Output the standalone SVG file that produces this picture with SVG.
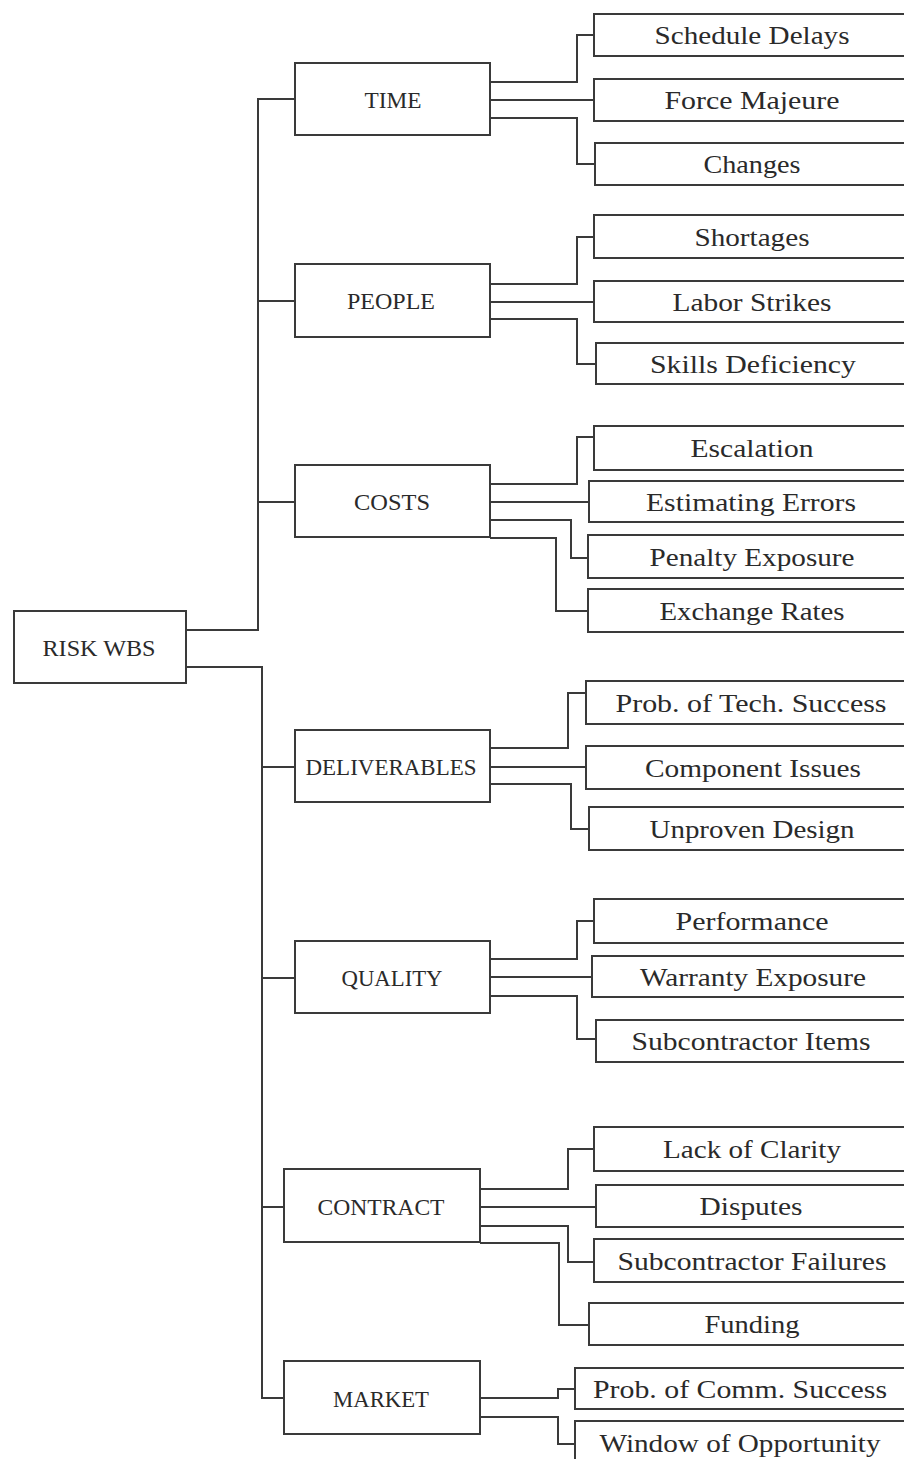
<svg xmlns="http://www.w3.org/2000/svg" width="904" height="1459" viewBox="0 0 904 1459">
<style>
.bg{fill:#fff}
.box{fill:#fff;stroke:#3a3a3a;stroke-width:2}
.ln{fill:none;stroke:#3a3a3a;stroke-width:2}
.t{font-family:"Liberation Serif","DejaVu Serif",serif;font-size:25px;fill:#2a2a2a;text-anchor:middle}
.c{font-family:"Liberation Serif","DejaVu Serif",serif;font-size:23px;fill:#2a2a2a;text-anchor:middle}
</style>
<rect class="bg" x="0" y="0" width="904" height="1459"/>
<g id="connectors">
<polyline class="ln" points="186,630 258,630 258,99 295,99"/>
<line class="ln" x1="258" y1="301" x2="295" y2="301"/>
<line class="ln" x1="258" y1="502" x2="295" y2="502"/>
<polyline class="ln" points="186,667 262,667 262,1398 284,1398"/>
<line class="ln" x1="262" y1="767" x2="295" y2="767"/>
<line class="ln" x1="262" y1="978" x2="295" y2="978"/>
<line class="ln" x1="262" y1="1207" x2="284" y2="1207"/>
<polyline class="ln" points="490,82 577,82 577,35 594,35"/>
<line class="ln" x1="490" y1="100" x2="594" y2="100"/>
<polyline class="ln" points="490,118 577,118 577,164 595,164"/>
<polyline class="ln" points="490,284 577,284 577,237 594,237"/>
<line class="ln" x1="490" y1="302" x2="594" y2="302"/>
<polyline class="ln" points="490,319 577,319 577,364 596,364"/>
<polyline class="ln" points="490,484 577,484 577,437 594,437"/>
<line class="ln" x1="490" y1="502" x2="589" y2="502"/>
<polyline class="ln" points="490,520 571,520 571,558 588,558"/>
<polyline class="ln" points="490,538 556,538 556,611 588,611"/>
<polyline class="ln" points="490,748 568,748 568,693 586,693"/>
<line class="ln" x1="490" y1="767" x2="586" y2="767"/>
<polyline class="ln" points="490,784 571,784 571,829 589,829"/>
<polyline class="ln" points="490,959 577,959 577,921 594,921"/>
<line class="ln" x1="490" y1="977" x2="592" y2="977"/>
<polyline class="ln" points="490,996 577,996 577,1039 596,1039"/>
<polyline class="ln" points="480,1189 568,1189 568,1149 594,1149"/>
<line class="ln" x1="480" y1="1207" x2="596" y2="1207"/>
<polyline class="ln" points="480,1226 568,1226 568,1262 594,1262"/>
<polyline class="ln" points="480,1243 559,1243 559,1325 589,1325"/>
<polyline class="ln" points="480,1398 558,1398 558,1389 575,1389"/>
<polyline class="ln" points="480,1417 558,1417 558,1444 575,1444"/>
</g>
<g id="root"><rect class="box" x="14" y="611" width="172" height="72"/><text class="c" x="99" y="656" textLength="113" lengthAdjust="spacingAndGlyphs">RISK WBS</text></g>
<g id="time"><rect class="box" x="295" y="63" width="195" height="72"/><text class="c" x="393" y="108" textLength="57" lengthAdjust="spacingAndGlyphs">TIME</text></g>
<g id="people"><rect class="box" x="295" y="264" width="195" height="73"/><text class="c" x="391" y="309" textLength="88" lengthAdjust="spacingAndGlyphs">PEOPLE</text></g>
<g id="costs"><rect class="box" x="295" y="465" width="195" height="72"/><text class="c" x="392" y="510" textLength="76" lengthAdjust="spacingAndGlyphs">COSTS</text></g>
<g id="deliverables"><rect class="box" x="295" y="730" width="195" height="72"/><text class="c" x="391" y="775" textLength="171" lengthAdjust="spacingAndGlyphs">DELIVERABLES</text></g>
<g id="quality"><rect class="box" x="295" y="941" width="195" height="72"/><text class="c" x="392" y="986" textLength="101" lengthAdjust="spacingAndGlyphs">QUALITY</text></g>
<g id="contract"><rect class="box" x="284" y="1169" width="196" height="73"/><text class="c" x="381" y="1215" textLength="127" lengthAdjust="spacingAndGlyphs">CONTRACT</text></g>
<g id="market"><rect class="box" x="284" y="1361" width="196" height="73"/><text class="c" x="381" y="1407" textLength="96" lengthAdjust="spacingAndGlyphs">MARKET</text></g>
<g id="schedule-delays"><rect class="box" x="594" y="14" width="320" height="42"/><text class="t" x="752" y="44" textLength="195" lengthAdjust="spacingAndGlyphs">Schedule Delays</text></g>
<g id="force-majeure"><rect class="box" x="594" y="79" width="320" height="42"/><text class="t" x="752" y="109" textLength="175" lengthAdjust="spacingAndGlyphs">Force Majeure</text></g>
<g id="changes"><rect class="box" x="595" y="143" width="320" height="42"/><text class="t" x="752" y="173" textLength="97" lengthAdjust="spacingAndGlyphs">Changes</text></g>
<g id="shortages"><rect class="box" x="594" y="215" width="320" height="43"/><text class="t" x="752" y="246" textLength="115" lengthAdjust="spacingAndGlyphs">Shortages</text></g>
<g id="labor-strikes"><rect class="box" x="594" y="281" width="320" height="41"/><text class="t" x="752" y="311" textLength="159" lengthAdjust="spacingAndGlyphs">Labor Strikes</text></g>
<g id="skills-deficiency"><rect class="box" x="596" y="343" width="320" height="41"/><text class="t" x="753" y="373" textLength="206" lengthAdjust="spacingAndGlyphs">Skills Deficiency</text></g>
<g id="escalation"><rect class="box" x="594" y="426" width="320" height="44"/><text class="t" x="752" y="457" textLength="123" lengthAdjust="spacingAndGlyphs">Escalation</text></g>
<g id="estimating-errors"><rect class="box" x="589" y="481" width="320" height="41"/><text class="t" x="751" y="511" textLength="210" lengthAdjust="spacingAndGlyphs">Estimating Errors</text></g>
<g id="penalty-exposure"><rect class="box" x="588" y="535" width="320" height="43"/><text class="t" x="752" y="566" textLength="205" lengthAdjust="spacingAndGlyphs">Penalty Exposure</text></g>
<g id="exchange-rates"><rect class="box" x="588" y="589" width="320" height="43"/><text class="t" x="752" y="620" textLength="185" lengthAdjust="spacingAndGlyphs">Exchange Rates</text></g>
<g id="prob-tech-success"><rect class="box" x="586" y="681" width="320" height="43"/><text class="t" x="751" y="712" textLength="271" lengthAdjust="spacingAndGlyphs">Prob. of Tech. Success</text></g>
<g id="component-issues"><rect class="box" x="586" y="746" width="320" height="43"/><text class="t" x="753" y="777" textLength="216" lengthAdjust="spacingAndGlyphs">Component Issues</text></g>
<g id="unproven-design"><rect class="box" x="589" y="807" width="320" height="43"/><text class="t" x="752" y="838" textLength="205" lengthAdjust="spacingAndGlyphs">Unproven Design</text></g>
<g id="performance"><rect class="box" x="594" y="899" width="320" height="44"/><text class="t" x="752" y="930" textLength="153" lengthAdjust="spacingAndGlyphs">Performance</text></g>
<g id="warranty-exposure"><rect class="box" x="592" y="956" width="320" height="41"/><text class="t" x="753" y="986" textLength="226" lengthAdjust="spacingAndGlyphs">Warranty Exposure</text></g>
<g id="subcontractor-items"><rect class="box" x="596" y="1020" width="320" height="42"/><text class="t" x="751" y="1050" textLength="239" lengthAdjust="spacingAndGlyphs">Subcontractor Items</text></g>
<g id="lack-of-clarity"><rect class="box" x="594" y="1127" width="320" height="44"/><text class="t" x="752" y="1158" textLength="178" lengthAdjust="spacingAndGlyphs">Lack of Clarity</text></g>
<g id="disputes"><rect class="box" x="596" y="1185" width="320" height="42"/><text class="t" x="751" y="1215" textLength="103" lengthAdjust="spacingAndGlyphs">Disputes</text></g>
<g id="subcontractor-failures"><rect class="box" x="594" y="1239" width="320" height="43"/><text class="t" x="752" y="1270" textLength="269" lengthAdjust="spacingAndGlyphs">Subcontractor Failures</text></g>
<g id="funding"><rect class="box" x="589" y="1303" width="320" height="42"/><text class="t" x="752" y="1333" textLength="95" lengthAdjust="spacingAndGlyphs">Funding</text></g>
<g id="prob-comm-success"><rect class="box" x="575" y="1368" width="340" height="41"/><text class="t" x="740" y="1398" textLength="294" lengthAdjust="spacingAndGlyphs">Prob. of Comm. Success</text></g>
<g id="window-of-opportunity"><rect class="box" x="575" y="1421" width="340" height="44"/><text class="t" x="740" y="1452" textLength="281" lengthAdjust="spacingAndGlyphs">Window of Opportunity</text></g>
</svg>
